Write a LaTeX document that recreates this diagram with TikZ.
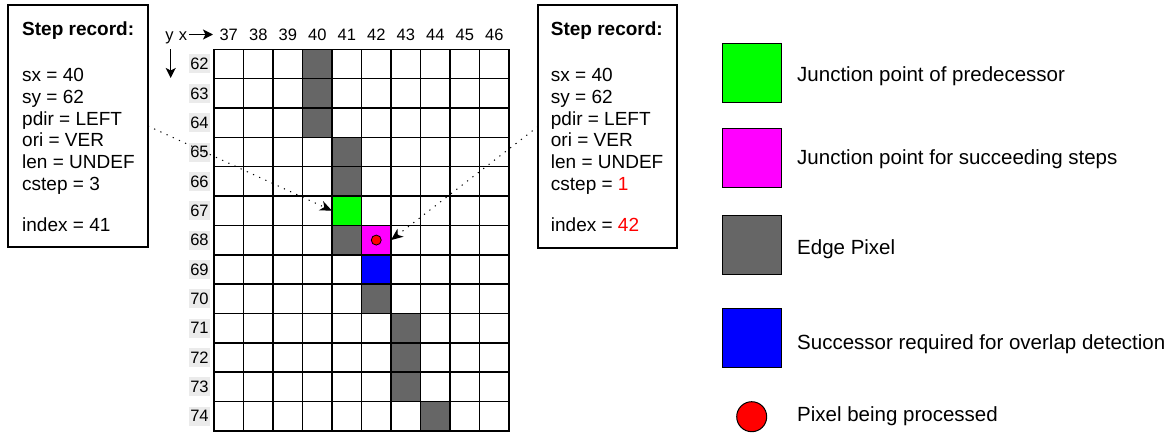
\documentclass[tikz,border=0pt]{standalone}
\usepackage{fontspec}
\setmainfont{Liberation Sans}
\usetikzlibrary{arrows.meta}
\definecolor{edgegray}{HTML}{666666}
\definecolor{lblgray}{HTML}{EBEBEB}
\definecolor{jgreen}{HTML}{00FF00}
\definecolor{jmag}{HTML}{FF00FF}
\definecolor{jblue}{HTML}{0000FF}
\definecolor{jred}{HTML}{FF0000}
\begin{document}
\begin{tikzpicture}[x=1pt,y=-1pt,
  recbox/.style={draw, line width=1.2pt, inner sep=0pt, outer sep=0pt},
  recline/.style={anchor=base west, inner sep=0pt, font=\fontsize{19}{22}\selectfont},
  rectitle/.style={recline, font=\fontsize{19}{22}\selectfont\bfseries},
  cellfill/.style={minimum width=29.5pt, minimum height=29.35pt, inner sep=0pt, outer sep=0pt},
  gridline/.style={line width=1.5pt, line cap=rect},
  colnum/.style={anchor=base, inner sep=0pt, font=\fontsize{16.5}{20}\selectfont},
  rowlbl/.style={fill=lblgray, inner sep=0pt, minimum width=21pt, minimum height=19pt, font=\fontsize{16.5}{20}\selectfont},
  legbox/.style={draw, line width=1pt, minimum size=59pt, inner sep=0pt},
  legtext/.style={anchor=base west, inner sep=0pt, font=\fontsize{20.5}{24}\selectfont},
  ptr/.style={line width=1pt, dash pattern=on 1.2pt off 5.6pt, -{Stealth[length=12pt,width=10pt,inset=3.5pt]}},
  hdrarrow/.style={line width=1.4pt, -{Stealth[length=10pt,width=10pt,inset=2.5pt]}}
]
\useasboundingbox (0,0) rectangle (1173,434);

% ---- left step record ----
\node[recbox, minimum width=140pt, minimum height=242pt] (leftbox) at (78,126) {};
\node[rectitle] (lt) at (22,35) {Step record:};
\node[recline] (l1) at (22,81.7) {sx = 40};
\node[recline] (l2) at (22,103.4) {sy = 62};
\node[recline] (l3) at (22,125.1) {pdir = LEFT};
\node[recline] (l4) at (22,146.8) {ori = VER};
\node[recline] (l5) at (22,168.4) {len = UNDEF};
\node[recline] (l6) at (22,190) {cstep = 3};
\node[recline] (l7) at (22,231.7) {index = 41};

% ---- right step record ----
\node[recbox, minimum width=139pt, minimum height=243pt] (rightbox) at (607.5,126.5) {};
\node[rectitle] (rt) at (550.7,35) {Step record:};
\node[recline] (r1) at (550.7,81.7) {sx = 40};
\node[recline] (r2) at (550.7,103.4) {sy = 62};
\node[recline] (r3) at (550.7,125.1) {pdir = LEFT};
\node[recline] (r4) at (550.7,146.8) {ori = VER};
\node[recline] (r5) at (550.7,168.4) {len = UNDEF};
\node[recline] (r6) at (550.7,190) {cstep = \textcolor{jred}{1}};
\node[recline] (r7) at (550.7,231.7) {index = \textcolor{jred}{42}};

% ---- grid cells ----
\foreach \c/\r in {3/0,3/1,3/2,4/3,4/4,4/6,5/8,6/9,6/10,6/11,7/12}
  \node[cellfill, fill=edgegray] (e\c-\r) at ({214+29.5*(\c+0.5)},{49.3+29.35*(\r+0.5)}) {};
\node[cellfill, fill=jgreen] (green) at ({214+29.5*4.5},{49.3+29.35*5.5}) {};
\node[cellfill, fill=jmag] (mag) at ({214+29.5*5.5},{49.3+29.35*6.5}) {};
\node[cellfill, fill=jblue] (blue) at ({214+29.5*5.5},{49.3+29.35*7.5}) {};

% grid lines
\foreach \i in {0,...,10}
  \draw[gridline] ({214+29.5*\i},49.3) -- ({214+29.5*\i},430.9);
\foreach \j in {0,...,13}
  \draw[gridline] (214,{49.3+29.35*\j}) -- (509,{49.3+29.35*\j});

% pixel being processed (in grid)
\node[circle, draw, line width=0.8pt, fill=jred, minimum size=10pt, inner sep=0pt] (cur) at (mag.center) {};

% column numbers
\foreach \n [count=\i from 0] in {37,...,46}
  \node[colnum] (col\n) at ({214+29.5*(\i+0.5)},40) {\n};
% row labels
\foreach \n [count=\j from 0] in {62,...,74}
  \node[rowlbl] (row\n) at (199.5,{49.3+29.35*(\j+0.5)}) {\n};

% axis labels
\node[colnum] (ylbl) at (169.5,40) {y};
\node[colnum] (xlbl) at (183,40) {x};
\coordinate (xend) at (213,34.5);
\coordinate (xstart) at (189,34.5);
\draw[hdrarrow] (xstart) -- (xend);
\coordinate (ystart) at (170.7,49);
\coordinate (yend) at (170.7,78);
\draw[hdrarrow] (ystart) -- (yend);

% pointers
\draw[ptr] (leftbox.east) -- (green.west);
\draw[ptr] (rightbox.west) -- (mag.east);

% ---- legend ----
\node[legbox, fill=jgreen] (lg1) at (751.5,72.5) {};
\node[legbox, fill=jmag] (lg2) at (751.5,157.5) {};
\node[legbox, fill=edgegray] (lg3) at (751.5,245.3) {};
\node[legbox, fill=jblue] (lg4) at (751.5,338) {};
\node[circle, draw, line width=1pt, fill=jred, minimum size=30pt, inner sep=0pt] (lg5) at (751.7,416.7) {};
\node[legtext] (lt1) at (797,81.7) {Junction point of predecessor};
\node[legtext] (lt2) at (797,164.5) {Junction point for succeeding steps};
\node[legtext] (lt3) at (797,254) {Edge Pixel};
\node[legtext] (lt4) at (797,349) {Successor required for overlap detection};
\node[legtext] (lt5) at (797,421.7) {Pixel being processed};
\end{tikzpicture}
\end{document}
